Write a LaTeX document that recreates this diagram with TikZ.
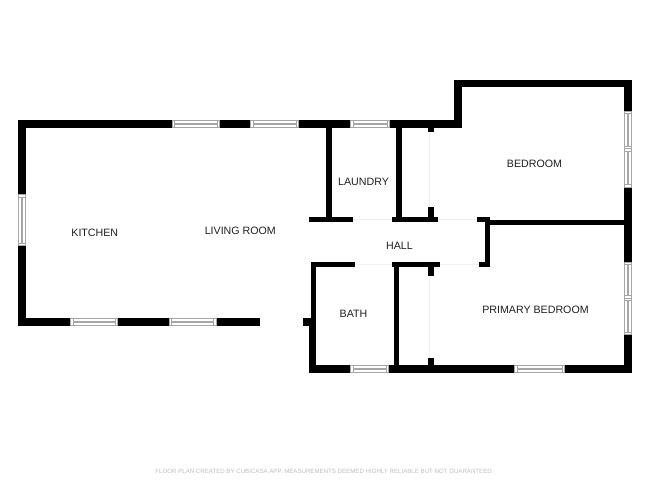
\documentclass[tikz,border=0pt]{standalone}
\usepackage{fontspec}
\setmainfont{Liberation Sans}
\definecolor{wallcol}{HTML}{000000}
\definecolor{framecol}{HTML}{A6A6A6}
\definecolor{doorcol}{HTML}{F1F1F1}
\definecolor{notecol}{HTML}{BDBDBD}
\tikzset{
  wall/.style={fill=wallcol,draw=none},
  winbox/.style={fill=white,draw=framecol,line width=0.7bp},
  winpane/.style={draw=framecol,line width=0.6bp},
  doorline/.style={draw=doorcol,line width=0.8bp},
  roomlabel/.style={font=\fontsize{10.7}{12}\selectfont,text=black!88,inner sep=0pt},
  notelabel/.style={font=\fontsize{6.15}{7}\selectfont,text=notecol,inner sep=0pt},
}
% horizontal and vertical window: x1 x2 y1 y2
\newcommand{\hwindow}[4]{%
  \draw [winbox] (#1,#3) rectangle (#2,#4);
  \draw [winpane] (#1+2.5,#3) -- (#1+2.5,#4) (#2-2.5,#3) -- (#2-2.5,#4);
  \draw [winpane] (#1+2.5,#3+2.8) -- (#2-2.5,#3+2.8) (#1+2.5,#4-2.8) -- (#2-2.5,#4-2.8);
}
\newcommand{\vwindow}[4]{%
  \draw [winbox] (#1,#3) rectangle (#2,#4);
  \draw [winpane] (#1,#3+2.5) -- (#2,#3+2.5) (#1,#4-2.5) -- (#2,#4-2.5);
  \draw [winpane] (#1+2.8,#3+2.5) -- (#1+2.8,#4-2.5) (#2-2.8,#3+2.5) -- (#2-2.8,#4-2.5);
}
\begin{document}
\begin{tikzpicture}[x=1bp,y=-1bp]
\useasboundingbox (0,0) rectangle (650,488);
%% outer walls
\fill [wall] (18,120.5) rectangle (461.5,127.7);
\fill [wall] (18,120.5) rectangle (25.5,325.7);
\fill [wall] (18,318) rectangle (259.5,325.7);
\fill [wall] (454,80) rectangle (461.5,127.7);
\fill [wall] (454,80) rectangle (631.7,87.3);
\fill [wall] (624.3,80) rectangle (631.7,372.7);
\fill [wall] (309,365.3) rectangle (631.7,372.7);
\fill [wall] (309,318) rectangle (316.3,372.7);
\fill [wall] (303.3,318.3) rectangle (310,326);
%% inner walls
\fill [wall] (326,127) rectangle (331.7,217);
\fill [wall] (309.3,216.7) rectangle (353.3,222.3);
\fill [wall] (396,127) rectangle (401.7,217);
\fill [wall] (391.7,216.7) rectangle (438.3,222.3);
\fill [wall] (428.3,127) rectangle (434,132.3);
\fill [wall] (428.3,207.3) rectangle (434,217);
\fill [wall] (476.7,216.7) rectangle (490.3,222.3);
\fill [wall] (485.3,217) rectangle (490.3,267.3);
\fill [wall] (490,220) rectangle (625,225.3);
\fill [wall] (479.3,262.3) rectangle (490,267.3);
\fill [wall] (311.3,262.3) rectangle (355,267.3);
\fill [wall] (311.3,262.3) rectangle (316.3,319);
\fill [wall] (391.7,262.3) rectangle (440,267.3);
\fill [wall] (393.7,262.3) rectangle (399,366);
\fill [wall] (428.3,267) rectangle (433.7,275.7);
\fill [wall] (428.3,358.3) rectangle (433.7,366);
%% doors
\draw [doorline] (429.5,132.3) -- (429.5,207.3);
\draw [doorline] (429.5,275.7) -- (429.5,358.3);
\draw [doorline] (353.3,219.5) -- (391.7,219.5);
\draw [doorline] (438.3,219.5) -- (476.7,219.5);
\draw [doorline] (355,264.8) -- (391.7,264.8);
\draw [doorline] (440,264.8) -- (479.3,264.8);
%% windows
\hwindow{172}{219.5}{120.8}{127.5}
\hwindow{250.5}{298.5}{120.8}{127.5}
\hwindow{350.5}{389.5}{120.8}{127.5}
\hwindow{70.5}{117.5}{318.3}{325.4}
\hwindow{169}{216}{318.3}{325.4}
\hwindow{350.5}{388.5}{365.6}{372.4}
\hwindow{514.5}{564.5}{365.6}{372.4}
\vwindow{18.3}{25.2}{194.5}{245.3}
\vwindow{624.6}{631.4}{111}{148.7}
\vwindow{624.6}{631.4}{148.7}{187}
\vwindow{624.6}{631.4}{262}{298}
\vwindow{624.6}{631.4}{298}{334.7}
%% labels
\node (kitchen) at (94.8,232.8) [roomlabel] {KITCHEN};
\node (living) at (240.3,230.4) [roomlabel] {LIVING ROOM};
\node (laundry) at (363.5,181.6) [roomlabel] {LAUNDRY};
\node (bedroom) at (534.5,163.5) [roomlabel] {BEDROOM};
\node (hall) at (399.5,245.4) [roomlabel] {HALL};
\node (bath) at (353.5,313.8) [roomlabel] {BATH};
\node (primary) at (535.5,309.8) [roomlabel] {PRIMARY BEDROOM};
\node (note) at (324.5,471) [notelabel] {FLOOR PLAN CREATED BY CUBICASA APP. MEASUREMENTS DEEMED HIGHLY RELIABLE BUT NOT GUARANTEED.};
%
\end{tikzpicture}
\end{document}
